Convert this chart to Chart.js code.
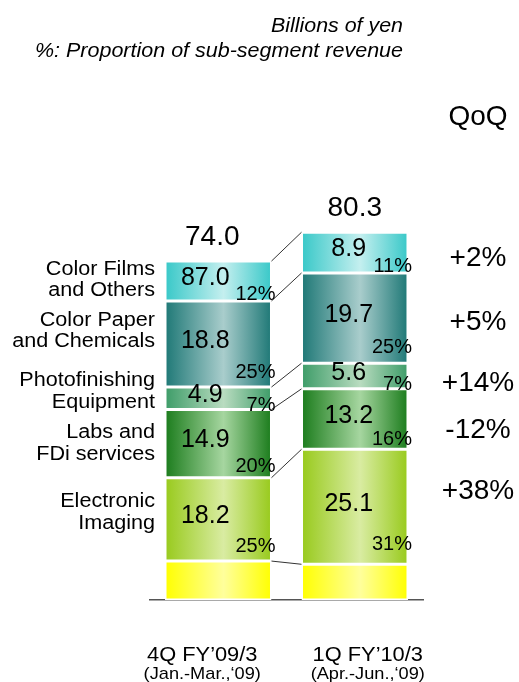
<!DOCTYPE html>
<html><head><meta charset="utf-8">
<script src="https://cdn.jsdelivr.net/npm/chart.js@4.4.1/dist/chart.umd.min.js"></script>
<style>html,body{margin:0;padding:0;background:#fff}#wrap{width:519px;height:682px;position:relative}</style>
</head><body><div id="wrap"><canvas id="c"></canvas></div>
<script>
// ---------- DATA ----------
const categories = ["4Q FY\u201909/3", "1Q FY\u201910/3"];
const periods = ["(Jan.-Mar.,\u201809)", "(Apr.-Jun.,\u201809)"];
const segmentNames = ["", "Electronic\nImaging", "Labs and\nFDi services", "Photofinishing\nEquipment", "Color Paper\nand Chemicals", "Color Films\nand Others"];
const baseValues        = [8.5, 7.8];
const electronicImaging = [18.2, 25.1];
const labsFDi           = [14.9, 13.2];
const photofinishing    = [4.9, 5.6];
const colorPaper        = [18.8, 19.7];
const colorFilms        = [8.7, 8.9];
const colorFilmsShown   = ["87.0", "8.9"];   // as printed in the source
const pctEI     = ["25%", "31%"];
const pctLabs   = ["20%", "16%"];
const pctPhoto  = ["7%", "7%"];
const pctPaper  = ["25%", "25%"];
const pctFilms  = ["12%", "11%"];
const qoqLabels = ["", "+38%", "-12%", "+14%", "+5%", "+2%"];
const headerLines = ["Billions of yen", "%: Proportion of sub-segment revenue"];

// ---------- STYLE ----------
const FONT = "'Liberation Sans', Arial, sans-serif";
const BAR_PCT = 0.78;
const gradColors = [
  ["#ffff00", "#ffff9c"],
  ["#98ca1c", "#d9eca2"],
  ["#1b7c1c", "#a6d6a0"],
  ["#3d9c68", "#b9dcc0"],
  ["#1e7876", "#a9cdcc"],
  ["#38c8c8", "#c4efef"]
];
const seriesValues = [baseValues, electronicImaging, labsFDi, photofinishing, colorPaper, colorFilms];
const seriesText = [
  null,
  electronicImaging.map(v => v.toFixed(1)),
  labsFDi.map(v => v.toFixed(1)),
  photofinishing.map(v => v.toFixed(1)),
  colorPaper.map(v => v.toFixed(1)),
  colorFilmsShown
];
const seriesPct = [null, pctEI, pctLabs, pctPhoto, pctPaper, pctFilms];

function makeGrad(c, k) {
  const chart = c.chart, area = chart.chartArea;
  if (!area || c.dataIndex === undefined) return gradColors[k][0];
  const xs = chart.scales.x;
  const cx = xs.getPixelForValue(c.dataIndex);
  const w = (area.right - area.left) / categories.length * BAR_PCT;
  const g = chart.ctx.createLinearGradient(cx - w / 2, 0, cx + w / 2, 0);
  g.addColorStop(0, gradColors[k][0]);
  g.addColorStop(0.55, gradColors[k][1]);
  g.addColorStop(1, gradColors[k][0]);
  return g;
}

const datasets = seriesValues.map((vals, k) => ({
  label: segmentNames[k].replace("\n", " ") || "Other",
  data: vals,
  backgroundColor: c => makeGrad(c, k),
  borderColor: "#ffffff",
  borderWidth: 1.5,
  borderSkipped: false,
  barPercentage: BAR_PCT,
  categoryPercentage: 1.0
}));

// text drawn with a slight horizontal stretch, like the source slide
function stretchText(ctx, text, x, y, sx) {
  ctx.save();
  ctx.translate(x, y);
  ctx.scale(sx, 1);
  ctx.fillText(text, 0, 0);
  ctx.restore();
}

const overlay = {
  id: "overlay",
  afterDatasetsDraw(chart) {
    const ctx = chart.ctx;
    const metas = seriesValues.map((_, k) => chart.getDatasetMeta(k));
    ctx.save();
    // connector lines between the bars
    ctx.strokeStyle = "#333";
    ctx.lineWidth = 1;
    for (let k = 0; k < metas.length; k++) {
      const a = metas[k].data[0], b = metas[k].data[1];
      ctx.beginPath();
      ctx.moveTo(a.x + a.width / 2, a.y);
      ctx.lineTo(b.x - b.width / 2, b.y);
      ctx.stroke();
    }
    ctx.fillStyle = "#000";
    // segment values and percentages
    const valDx = [-13, -6];
    for (let k = 1; k < metas.length; k++) {
      for (let i = 0; i < 2; i++) {
        const el = metas[k].data[i];
        const h = el.base - el.y;
        ctx.font = "25px " + FONT;
        ctx.textAlign = "center";
        ctx.textBaseline = "middle";
        ctx.fillText(seriesText[k][i], el.x + valDx[i], (el.y + el.base) / 2 - 3);
        ctx.font = "20px " + FONT;
        ctx.textAlign = "right";
        ctx.fillText(seriesPct[k][i], el.x + el.width / 2 + 4, el.base - 0.17 * h);
      }
    }
    // totals above the bars
    const totDx = [-6, 0];
    const top = metas[metas.length - 1];
    ctx.font = "28px " + FONT;
    ctx.textAlign = "center";
    ctx.textBaseline = "middle";
    for (let i = 0; i < 2; i++) {
      const total = seriesValues.reduce((s, arr) => s + arr[i], 0);
      const el = top.data[i];
      ctx.fillText(total.toFixed(1), el.x + totDx[i], el.y - 24);
    }
    // segment names on the left
    const nameDy = [0, -7, 0, -7, -13, -1];
    ctx.font = "20px " + FONT;
    ctx.textAlign = "right";
    for (let k = 1; k < metas.length; k++) {
      const el = metas[k].data[0];
      const mid = (el.y + el.base) / 2 + nameDy[k];
      const lines = segmentNames[k].split("\n");
      const lx = el.x - el.width / 2 - 10;
      stretchText(ctx, lines[0], lx, mid - 10.8, 1.08);
      stretchText(ctx, lines[1], lx, mid + 10.8, 1.08);
    }
    // QoQ column
    const qx = chart.width - 41;
    const qoqDy = [0, -16, 11.5, 7.4, 4.5, 6];
    ctx.font = "28px " + FONT;
    ctx.textAlign = "center";
    ctx.fillText("QoQ", qx, 117);
    for (let k = 1; k < metas.length; k++) {
      const el = metas[k].data[1];
      ctx.fillText(qoqLabels[k], qx, (el.y + el.base) / 2 + qoqDy[k]);
    }
    // header
    ctx.font = "italic 20px " + FONT;
    ctx.textAlign = "right";
    ctx.textBaseline = "alphabetic";
    stretchText(ctx, headerLines[0], 403, 31.5, 1.07);
    stretchText(ctx, headerLines[1], 403, 57, 1.075);
    // category labels
    const catDx = [-16, 13];
    ctx.textAlign = "center";
    ctx.textBaseline = "middle";
    for (let i = 0; i < 2; i++) {
      const x = chart.scales.x.getPixelForValue(i) + catDx[i];
      ctx.font = "21px " + FONT;
      stretchText(ctx, categories[i], x, 655, 1.04);
      ctx.font = "17px " + FONT;
      stretchText(ctx, periods[i], x, 674, 1.07);
    }
    ctx.restore();
  }
};

new Chart(document.getElementById("c"), {
  type: "bar",
  data: { labels: categories, datasets },
  options: {
    responsive: true,
    maintainAspectRatio: false,
    animation: false,
    layout: { padding: { top: 142, bottom: 74, left: 150, right: 96 } },
    plugins: { legend: { display: false }, tooltip: { enabled: false } },
    scales: {
      x: {
        stacked: true,
        ticks: { display: false },
        grid: { display: false },
        border: { display: true, color: "#555", width: 1.5 }
      },
      y: { stacked: true, display: false, min: 0, max: 100 }
    }
  },
  plugins: [overlay]
});
</script>
</body></html>
